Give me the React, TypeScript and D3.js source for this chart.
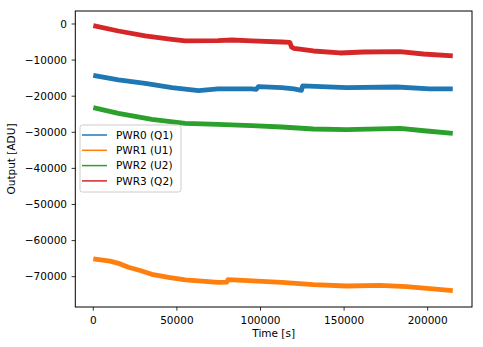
import React from "react";
import * as d3 from "d3";

const seriesNames = ["PWR0 (Q1)", "PWR1 (U1)", "PWR2 (U2)", "PWR3 (Q2)"];
const colors = ["#1f77b4", "#ff7f0e", "#2ca02c", "#d62728"];

const pwr0T = [0, 15000, 31000, 47000, 63000, 74600, 94700, 97500, 98700, 112700, 120000, 124500, 125200, 151500, 181400, 201300, 215000];
const pwr0V = [-14210, -15510, -16430, -17640, -18470, -18000, -18000, -18100, -17360, -17640, -18000, -18370, -17170, -17640, -17450, -18000, -18000];

const pwr1T = [0, 10000, 15000, 21000, 28000, 35000, 45000, 55000, 74600, 79800, 80600, 112700, 131600, 151500, 171500, 187400, 215000];
const pwr1V = [-65100, -65700, -66300, -67400, -68300, -69340, -70200, -70910, -71560, -71500, -70820, -71560, -72200, -72580, -72390, -72760, -73880];

const pwr2T = [0, 15000, 35000, 55000, 74600, 94700, 112700, 131600, 151500, 183400, 199400, 215000];
const pwr2V = [-23180, -24750, -26400, -27510, -27800, -28170, -28530, -29090, -29270, -28900, -29640, -30290];

const pwr3T = [0, 15000, 31000, 47000, 55000, 74600, 82800, 94700, 112700, 117500, 118600, 120000, 131600, 147500, 161500, 183400, 197400, 215000];
const pwr3V = [-470, -1940, -3320, -4240, -4700, -4620, -4430, -4700, -4990, -5070, -6400, -6730, -7480, -8030, -7760, -7660, -8310, -8860];

const xTicks = [0, 50000, 100000, 150000, 200000];
const yTicks = [0, -10000, -20000, -30000, -40000, -50000, -60000, -70000];

const allT = [pwr0T, pwr1T, pwr2T, pwr3T];
const allV = [pwr0V, pwr1V, pwr2V, pwr3V];

const W = 483, H = 347;
const L = 75.3, R = 472, T = 11, B = 307;
const font = "'DejaVu Sans', sans-serif";
const fs = 10.5;
const fmt = (v: number) => (v < 0 ? "\u2212" + Math.abs(v) : String(v));

export default function App() {
  const x = d3.scaleLinear().domain([-10770, 226500]).range([L, R]);
  const y = d3.scaleLinear().domain([-78400, 3600]).range([B, T]);
  const line = d3.line<[number, number]>().x(d => x(d[0])).y(d => y(d[1]));

  const legX = 80, legY = 125, legW = 101, legH = 67;
  return (
    <svg width={W} height={H} style={{ position: "absolute", left: 0, top: 0, fontFamily: font }}>
      <rect width={W} height={H} fill="#fff" />
      <defs>
        <clipPath id="clip"><rect x={L} y={T} width={R - L} height={B - T} /></clipPath>
      </defs>
      <g clipPath="url(#clip)">
        {allT.map((ts, i) => (
          <path key={i}
            d={line(ts.map((t, j) => [t, allV[i][j]] as [number, number])) || ""}
            fill="none" stroke={colors[i]} strokeWidth={4.8} strokeLinejoin="round" />
        ))}
      </g>
      <rect x={L} y={T} width={R - L} height={B - T} fill="none" stroke="#000" strokeWidth={1} />
      {xTicks.map(t => (
        <g key={t}>
          <line x1={x(t)} x2={x(t)} y1={B} y2={B + 3.7} stroke="#000" strokeWidth={0.8} />
          <text x={x(t)} y={B + 16.5} fontSize={fs} textAnchor="middle" fill="#000" style={{ fontFamily: font }}>{t}</text>
        </g>
      ))}
      {yTicks.map(t => (
        <g key={t}>
          <line x1={L - 3.7} x2={L} y1={y(t)} y2={y(t)} stroke="#000" strokeWidth={0.8} />
          <text x={L - 8.3} y={y(t)} dy="0.35em" fontSize={fs} textAnchor="end" fill="#000" style={{ fontFamily: font }}>{fmt(t)}</text>
        </g>
      ))}
      <text x={(L + R) / 2} y={337} fontSize={fs} textAnchor="middle" fill="#000" style={{ fontFamily: font }}>Time [s]</text>
      <text transform={`translate(15,${(T + B) / 2}) rotate(-90)`} fontSize={fs} textAnchor="middle" fill="#000" style={{ fontFamily: font }}>Output [ADU]</text>
      <rect x={legX} y={legY} width={legW} height={legH} rx={2.5} fill="#fff" fillOpacity={0.8} stroke="#cccccc" strokeWidth={1} />
      {seriesNames.map((n, i) => (
        <g key={n}>
          <line x1={legX + 2} x2={legX + 27} y1={legY + 10 + i * 15.3} y2={legY + 10 + i * 15.3} stroke={colors[i]} strokeWidth={1.5} />
          <text x={legX + 36} y={legY + 10 + i * 15.3} dy="0.35em" fontSize={fs} fill="#000" style={{ fontFamily: font }}>{n}</text>
        </g>
      ))}
    </svg>
  );
}
